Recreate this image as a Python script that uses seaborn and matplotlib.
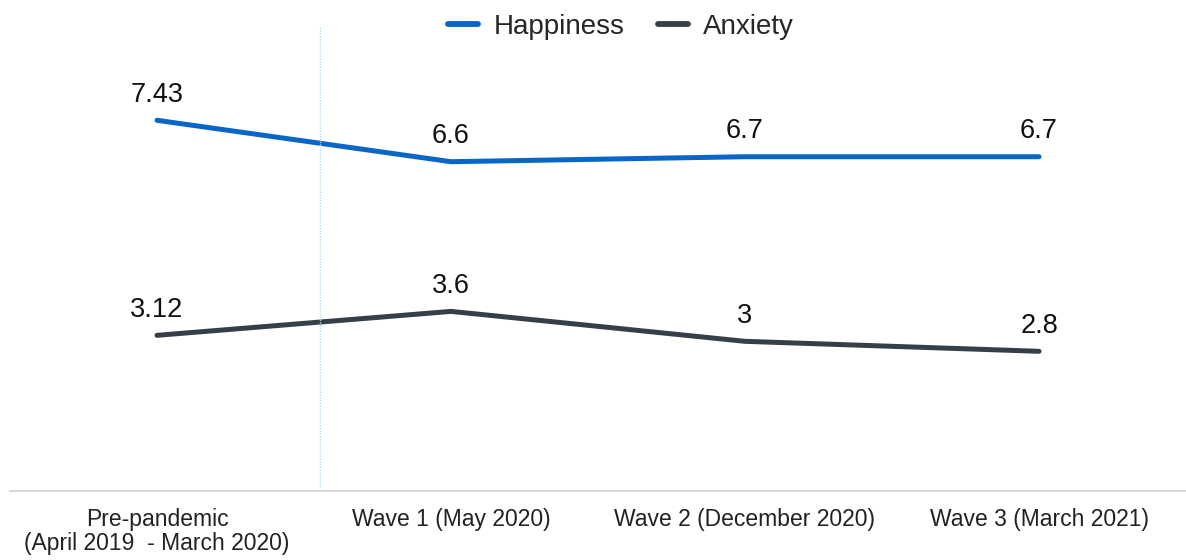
import matplotlib
matplotlib.use("Agg")
import matplotlib.pyplot as plt
import seaborn as sns
import pandas as pd

sns.set_theme(style="white")
plt.rcParams["font.family"] = ["Liberation Sans", "DejaVu Sans"]

periods = ["Pre-pandemic\n(April 2019  - March 2020)", "Wave 1 (May 2020)",
           "Wave 2 (December 2020)", "Wave 3 (March 2021)"]
happiness = [7.43, 6.6, 6.7, 6.7]
anxiety = [3.12, 3.6, 3, 2.8]
happiness_labels = ["7.43", "6.6", "6.7", "6.7"]
anxiety_labels = ["3.12", "3.6", "3", "2.8"]

df = pd.DataFrame({
    "period": periods * 2,
    "value": happiness + anxiety,
    "measure": ["Happiness"] * 4 + ["Anxiety"] * 4,
})

palette = {"Happiness": "#0866c6", "Anxiety": "#353f49"}

fig = plt.figure(figsize=(11.86, 5.6), dpi=100)
ax = fig.add_axes([10 / 1186, 69 / 560, 1176 / 1186, 464 / 560])

sns.lineplot(data=df, x="period", y="value", hue="measure", palette=palette,
             linewidth=3.6, sort=False, ax=ax, legend=True)
for line in ax.get_lines():
    line.set_solid_capstyle("round")
    line.set_solid_joinstyle("round")

ax.set_xlim(-0.5, 3.5)
ax.set_ylim(0, 9.3)

# divider between the baseline period and the pandemic waves
ax.axvline(0.555, ymin=0.008, ymax=1.0, color="#b9dcec", linestyle=(0, (1, 1)),
           linewidth=1.0)

for i, (v, t) in enumerate(zip(happiness, happiness_labels)):
    ax.annotate(t, (i, v), xytext=(0, 9), textcoords="offset points",
                ha="center", va="bottom", fontsize=19.5, color="#111111")
for i, (v, t) in enumerate(zip(anxiety, anxiety_labels)):
    ax.annotate(t, (i, v), xytext=(0, 9), textcoords="offset points",
                ha="center", va="bottom", fontsize=19.5, color="#111111")

ax.set_xlabel("")
ax.set_ylabel("")
ax.set_yticks([])
ax.tick_params(axis="x", length=0, pad=12, labelsize=16.5, labelcolor="#222222")
for lbl in ax.get_xticklabels():
    lbl.set_multialignment("center")
    lbl.set_linespacing(1.1)

for side in ["top", "left", "right"]:
    ax.spines[side].set_visible(False)
ax.spines["bottom"].set_color("#d9d9d9")
ax.spines["bottom"].set_linewidth(1.5)

handles, labels = ax.get_legend_handles_labels()
for h in handles:
    h.set_linewidth(4.2)
    h.set_solid_capstyle("round")
ax.legend_.remove()
fig.legend(handles, labels, loc="center", bbox_to_anchor=(621 / 1186, 1 - 27 / 560),
           ncol=2, frameon=False, fontsize=20, handlelength=1.08,
           handletextpad=0.55, columnspacing=1.2)

fig.savefig("out.png", dpi=100, facecolor="white")
